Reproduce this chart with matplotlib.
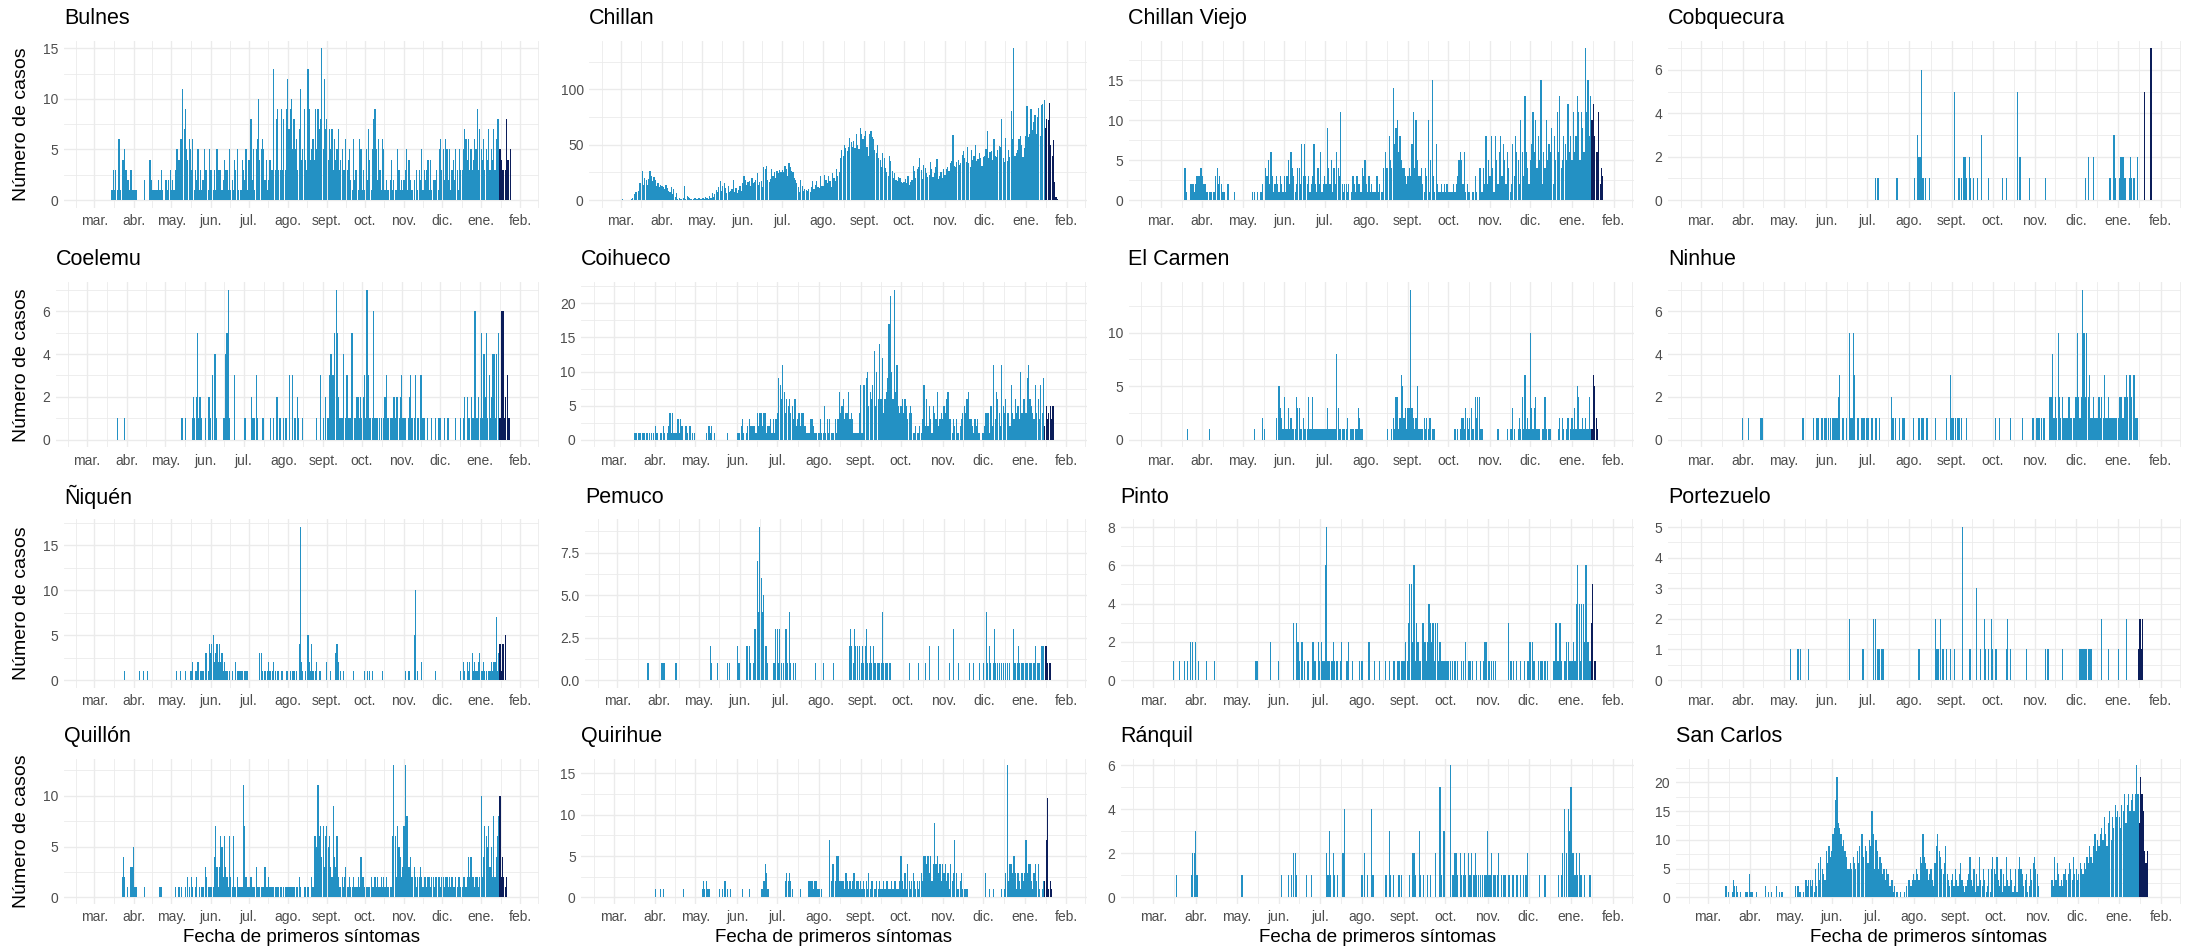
import numpy as np
import pandas as pd
import matplotlib
matplotlib.use("Agg")
import matplotlib.pyplot as plt

plt.rcParams['font.family'] = ['Liberation Sans', 'DejaVu Sans']

# casos diarios por fecha de inicio de sintomas, un texto por mes (mar 2020 ... ene 2021)
# "v*n" = n dias seguidos con valor v
bulnes = [
    "0*14 1 3 1 3 1 6 6 1 4 4 5 3 2 2 1 3 1",
    "1 1 1 0 0 0 0 0 0 2 0 0 0 4 2 1 1 1 1 1 2 1 3 1 0 2 2 1 2 3",
    "1 2 1 3 5 5 4 6 6 11 7 9 5 4 6 5 3 6 1 3 2 5 1 3 1 2 5 3 3 1 5",
    "3 3 1 3 1 5 3 3 3 1 2 4 3 3 1 5 1 2 1 4 3 5 1 0 1 4 3 2 5 1",
    "4 4 8 2 5 1 5 6 10 4 5 6 5 2 4 1 2 4 3 3 13 3 8 9 3 3 9 3 8 3 9",
    "12 7 9 10 5 8 5 6 3 7 11 4 5 9 4 3 13 9 4 5 6 4 9 5 9 7 8 15 5 12 7",
    "8 4 7 5 7 3 6 4 5 7 3 4 5 3 3 6 3 4 5 2 1 6 2 3 0 1 6 5 1 3",
    "1 5 2 7 4 1 5 8 9 5 2 6 3 1 6 5 1 2 1 1 2 4 1 2 1 1 5 3 1 2 1",
    "2 3 5 1 4 2 1 1 2 0 3 1 3 2 5 1 3 2 3 4 1 4 1 2 2 2 3 1 5 6",
    "3 5 2 6 5 2 5 1 3 4 2 5 3 1 5 3 3 5 7 6 4 6 3 5 3 4 6 5 9 3 7",
    "5 4 6 3 5 4 7 3 5 4 7 3 6 8 8 5 4 3 3 3 8 4 4 5 0 0",
]
chillan = [
    "0 1 0 0 0 0 0 0 1 2 5 7 7 8 15 15 26 14 20 18 14 19 26 22 17 21 18 13 15 12 14",
    "13 12 10 14 11 8 7 12 5 10 3 6 1 2 1 1 2 13 1 4 3 2 1 0 1 2 1 1 2 1",
    "1 2 1 3 2 1 4 2 6 3 5 9 7 12 17 8 13 15 11 6 13 7 8 10 18 7 11 6 9 13 8",
    "15 22 18 14 16 17 13 20 15 16 18 24 14 16 17 12 30 28 31 18 16 19 28 22 25 20 26 24 27 25",
    "27 25 31 28 22 33 30 26 25 20 18 15 12 7 18 13 8 10 9 8 10 7 12 17 10 14 17 12 11 22 13",
    "13 23 18 15 22 17 12 24 20 17 28 22 25 38 45 40 50 47 44 48 56 52 48 53 47 60 50 46 65 60 55",
    "58 62 48 40 60 62 57 55 45 42 50 38 36 30 42 38 29 25 22 40 35 26 20 24 18 17 21 20 16 15",
    "16 19 15 22 14 16 18 31 26 20 28 30 38 27 19 32 29 24 21 23 34 28 21 24 30 37 19 22 25 20 28",
    "23 28 30 26 33 35 59 31 30 34 36 32 33 41 44 38 34 48 33 30 45 36 40 50 35 37 42 38 31 39",
    "40 46 62 38 43 44 36 55 40 39 45 49 48 73 38 34 56 35 45 39 80 55 137 40 42 45 55 58 50 39 47",
    "58 85 57 60 82 63 70 77 60 75 83 58 86 87 90 65 73 72 88 50 40 54 16 3 1 0",
]
chillan_viejo = [
    "0*18 4 1 0 0 2 2 2 1 2 3 3 3 4",
    "3 2 2 1 1 1 1 1 1 1 3 4 2 3 2 1 1 0 0 2 0 0 0 0 1 0 0 0 0 0",
    "0 0 0 0 0 0 0 1 0 1 0 1 0 1 1 2 0 4 3 5 2 6 3 1 2 3 2 1 3 2 1",
    "3 1 3 5 2 6 4 3 1 2 4 4 2 7 3 7 3 2 3 1 2 3 7 2 1 4 2 6 1 2",
    "3 2 9 4 2 5 1 4 2 6 4 3 11 2 1 2 2 1 2 0 1 3 2 1 3 2 2 1 4 3 5",
    "2 1 3 1 2 1 1 1 3 1 2 1 1 4 6 4 4 8 5 4 14 7 9 10 6 8 5 4 4 3 2",
    "3 4 3 7 11 4 10 5 3 3 4 2 1 4 3 10 1 5 15 3 1 7 2 1 1 2 1 2 1 2",
    "1 1 1 1 2 1 2 3 5 6 5 2 6 1 2 1 1 0 1 1 3 1 0 4 4 1 4 2 8 2 5",
    "3 8 4 1 8 5 2 6 8 3 7 5 2 6 4 1 2 7 3 8 6 5 2 10 6 3 13 6 4 2",
    "5 7 11 6 10 4 8 5 15 2 6 4 10 5 7 6 9 2 8 5 11 6 13 4 5 8 7 5 12 6 8",
    "5 11 6 8 13 11 5 11 9 6 19 11 15 8 13 10 12 8 6 6 11 2 4 3 0 0",
]
cobquecura = [
    "", "", "", "",
    "0*6 1 0 1 0*13 1 0*8",
    "0*4 1 0 3 2 2 6 1 0 1 0 0 1 0*15",
    "0 0 5 0 0 1 1 1 0 2 2 1 0 2 1 0 1 0 0 1 0 0 3 0 0 0 0 1 0 0",
    "0*7 1 0 0 1 0*7 5 0 2 0*6 1 0*3",
    "0*8 1 0*21",
    "0*7 1 0 2 0*3 2 0*11 1 0 0 3 1 0",
    "0 1 2 2 2 1 0 0 1 2 1 1 1 0 2 0 0 0 0 5 0 0 0 0 7 0",
]
coelemu = [
    "0*24 1 0 0 0 0 1 0",
    "",
    "0*13 1 0 0 1 0*4 1 2 1 2 5 1 2 1 0 0",
    "1 0 0 2 1 0 3 4 4 1 0 0 0 0 1 1 4 5 7 1 0 0 0 3 0 0 0 0 0 0",
    "0 1 0 0 0 0 2 1 1 0 3 1 0 0 0 1 0 0 0 0 0 1 0 1 0 0 2 0 1 1 0",
    "1 0 1 0 0 3 0 3 0 1 0 2 1 0 0 1 0 0 0 0 0 0 0 0 0 0 1 0 0 3 0",
    "1 0 2 1 1 3 4 3 3 5 7 5 2 1 1 1 4 1 3 3 1 1 5 5 1 1 2 2 1 2",
    "1 2 3 1 7 3 1 1 1 6 1 1 1 0 1 1 0 1 2 3 1 1 1 1 1 2 1 2 2 1 2",
    "3 1 1 1 0 1 2 3 1 0 1 3 1 1 0 3 1 1 1 0 1 0 0 1 0 0 1 0 0 1",
    "1 0 0 1 0 0 1 0 0 0 0 0 1 0 0 0 1 0 1 2 0 2 1 1 2 1 1 6 1 1 2",
    "1 5 1 4 2 5 1 3 1 2 4 4 1 4 5 1 1 6 6 1 2 3 1 1 0 0",
]
coihueco = [
    "0*16 1 1 0 1 1 0 1 1 0 1 0 1 1 0 1",
    "2 1 1 0 1 1 2 1 0 1 2 4 1 4 1 1 1 3 1 3 2 0 0 2 1 0 2 0 1 1",
    "0 0 0 0 0 0 0 0 1 0 2 1 2 0 1 0 0 0 0 0 0 0 0 0 1 0 0 0 0 0 0",
    "1 1 1 2 3 1 0 1 2 3 2 2 2 2 1 4 2 4 4 2 4 4 1 2 2 3 1 3 1 3",
    "4 9 8 6 11 7 4 6 5 6 4 5 3 6 2 3 4 2 4 4 2 2 1 1 1 3 3 2 1 1 0",
    "1 3 1 1 5 1 3 1 3 1 1 1 3 1 3 7 4 5 6 3 4 4 7 3 4 3 1 1 1 1 4",
    "8 1 8 8 9 10 5 7 6 8 13 5 10 6 14 6 12 4 6 7 9 17 21 10 6 22 7 11 5 4",
    "5 6 4 6 5 3 4 5 4 1 1 2 1 1 2 1 3 8 2 6 2 5 3 1 5 4 3 7 2 3 4",
    "3 5 4 6 7 3 3 1 3 2 3 1 1 2 3 4 5 4 6 7 3 3 2 1 3 2 3 1 0 0",
    "1 2 4 4 4 1 5 2 11 3 7 6 4 2 11 5 4 6 4 4 2 8 4 3 6 4 5 3 10 4 6",
    "6 4 9 11 6 5 4 3 8 4 6 3 8 4 9 2 5 3 4 5 3 5 0 0 0 0",
]
el_carmen = [
    "0*20 1 0*10",
    "0*5 1 0*24",
    "0*9 1 0*5 2 1 0*8 2 0 5 3 2 1",
    "4 1 1 3 1 2 1 1 1 4 3 3 1 1 2 1 1 1 4 1 1 4 1 1 1 1 1 1 1 1",
    "1 1 3 1 1 1 1 1 1 8 3 1 1 1 1 1 1 2 0 1 1 1 0 1 1 3 2 1 1 0 0",
    "0*16 1 0 0 1 2 1 4 4 1 2 6 5 2 3 1",
    "3 3 14 3 2 1 2 5 1 1 1 1 2 1 2 1 2 2 1 1 1 0 0 0 0 0 0 0 0 0",
    "0 0 0 0 0 1 0 1 0 1 2 2 1 3 2 1 2 3 1 1 4 2 4 4 1 1 0 0 0 0 0",
    "0 0 0 0 0 0 1 0 0 0 0 0 0 1 0 1 1 3 1 0 0 1 2 1 4 1 6 1 2 1",
    "10 3 1 3 4 1 1 1 0 1 1 4 1 0 1 1 0 0 0 0 0 1 2 0 2 1 0 1 2 0 1",
    "2 1 3 1 5 4 1 1 2 1 2 1 1 4 1 1 6 5 2 1 0 0 0 0 0 0",
]
ninhue = [
    "",
    "1 0 0 0 1 0 0 0 0 0 0 0 0 1 1 0*15",
    "0*14 1 0*7 1 0 1 1 0 0 1 0 1",
    "1 0 1 1 0 1 1 1 1 2 3 0 1 1 0 1 0 5 1 1 5 3 0 1 1 0 1 1 1 0",
    "1 1 0 1 1 0 1 1 0 1 0 0 0 0 0 0 0 0 2 1 0 1 0 0 1 0 1 1 0 0 0",
    "0 0 0 1 0 0 0 1 0 1 1 0 0 1 0 0 0 0 0 1 0 0 0 0 0 0 0 1 0 0 3",
    "1 1 0 1 1 1 1 1 0 0 0 1 0 0 0 0 0 0 0 0 0 0 0 0 0 0 0 0 0 0",
    "0 0 1 0 0 1 0 0 0 0 0 0 0 1 0 0 0 0 0 0 0 0 1 0 0 0 0 0 0 1 1",
    "0 1 1 1 0 1 1 1 0 0 0 2 2 4 1 2 1 5 2 1 2 1 1 1 1 2 1 1 1 1",
    "2 5 2 1 2 7 5 2 5 2 3 1 1 2 1 1 1 2 1 2 1 3 1 1 2 1 1 1 1 1 1",
    "1 2 2 1 1 2 3 2 3 3 2 3 3 1 1 0 0 0 0 0 0 0 0 0 0 0",
]
niquen = [
    "0*24 1 0*6",
    "0*5 1 0 0 1 0 0 1 0*18",
    "0*4 1 0 0 1 0 0 0 1 0 0 0 1 1 2 0 1 1 2 0 1 1 1 0 3 3 1 4",
    "3 4 5 2 3 4 2 4 2 3 1 2 1 1 0 1 0 1 0 0 2 1 1 1 1 1 0 1 1 1",
    "0 0 0 0 0 0 0 0 0 3 3 1 0 1 0 1 2 1 0 1 2 1 0 1 1 0 1 1 0 0 1",
    "1 0 1 0 1 1 0 1 0 4 17 2 1 0 1 0 5 2 1 4 1 0 1 2 0 1 1 0 0 0 0",
    "2 0 0 1 0 0 0 3 4 2 0 1 0 1 0 0 0 0 0 0 0 1 0 0 0 0 0 0 0 0",
    "1 0 1 0 1 0 1 0 0 0 0 0 0 0 1 0*16",
    "0 1 0 0 1 0 0 0 5 10 0 1 0 0 2 0*10 1 0*4",
    "0*15 1 0 2 1 0 2 1 2 0 3 1 2 1 1 2 3",
    "1 1 2 1 1 0 1 1 2 1 2 2 7 1 3 4 1 4 4 5 0 0 0 0 0 0",
]
pemuco = [
    "0*23 1 0*7",
    "0 0 1 1 1 0 0 0 0 0 0 0 0 1 0*16",
    "0*9 2 1 0 0 0 1 0*7 1 1 0 0 0 0 0 2 1",
    "1 0 0 0 0 2 2 2 1 0 1 3 3 7 4 9 6 4 5 2 2 1 0 0 0 1 1 3 3 1",
    "3 1 0 1 3 3 1 4 1 0 1 0 1 0 0 0 0 0 0 0 0 0 0 0 0 0 0 1 0 0 0",
    "0 0 1 0 0 0 0 0 0 1 0 0 0 0 0 0 0 0 0 0 0 2 3 2 1 3 2 2 0 2 1",
    "2 1 2 3 1 1 2 1 2 1 1 1 1 1 1 4 1 1 1 1 1 1 0 0 0 0 0 0 0 0",
    "0 0 0 0 0 1 0 0 0 0 0 0 1 0 0 0 0 1 0 0 2 0 0 0 0 0 0 2 0 0 0",
    "0 0 0 0 1 0 0 3 0 0 0 1 0 0 0 0 0 0 0 1 0 0 1 0 0 0 0 1 0 0",
    "1 0 4 1 2 1 0 1 3 1 1 0 1 1 0 1 1 0 1 1 0 0 3 1 1 1 2 1 1 1 1",
    "1 1 1 1 1 1 1 1 2 1 1 1 2 2 2 2 2 1 1 1 0 0 0 0 0 0",
]
pinto = [
    "0*15 1 0 0 0 1 0 0 0 1 0 1 0 2 0 2 0",
    "2 0 1 0 0 0 0 0 1 0 0 0 0 0 1 0*15",
    "0*14 1 1 0*9 2 0*5",
    "1 0 0 0 0 0 0 0 0 0 0 3 0 3 2 1 0 2 0 1 0 1 1 0 0 2 1 1 0 2",
    "1 2 1 1 6 8 1 1 0 1 2 1 1 1 0 1 2 0 0 0 1 2 0 0 1 0 0 0 0 1 0",
    "1 0 0 0 0 2 0 0 0 1 0 0 0 1 0 0 0 1 0 0 1 0 0 1 1 0 1 1 0 1 1",
    "1 2 1 3 5 5 2 6 1 3 2 1 1 3 3 2 1 2 4 3 2 3 1 3 3 1 2 1 1 1",
    "1 1 1 0 1 1 0 1 0 1 0 0 1 1 0 2 0 1 1 0 1 0 0 1 0 0 1 0 1 2 2",
    "0 1 0 1 1 0 1 0 0 0 0 0 0 0 0 3 0 1 0 1 0 1 0 0 1 0 0 1 0 1",
    "1 2 0 2 1 0 0 1 0 1 1 0 1 0 1 0 0 0 1 1 3 1 1 3 1 0 1 1 2 2 1",
    "1 1 2 1 4 6 4 1 4 4 2 6 2 2 1 3 5 1 1 0 0 0 0 0 0 0",
]
portezuelo = [
    "", "",
    "0*5 1 0*4 1 1 1 0*5 1 0*12",
    "0*17 2 0*9 1 0 0",
    "0 0 0 0 0 2 2 0 1 1 0 1 1 0*18",
    "0*7 1 0*11 2 1 1 0 2 1 1 0 1 0 0 1",
    "0 0 1 0 0 0 0 0 5 0 0 0 0 1 1 0 0 0 3 0 0 1 0 0 2 1 0 1 0 2",
    "1 0 1 1 0 0 0 0 0 0 1 2 0 1 0 0 0 0 0 0 0 0 0 0 0 1 0 0 0 0 0",
    "0*8 1 1 1 0*9 1 0*9",
    "0 0 0 1 1 1 1 1 1 1 1 1 0 0 0 0 0 0 0 2 0 0 0 0 1 0 0 0 0 0 0",
    "1 0 0 0 0 0 2 0 0 0 0 0 0 0 0 1 2 1 2 0 0 0 0 0 0 0",
]
quillon = [
    "0*22 2 4 2 0 1 0 0 3 3",
    "5 1 1 0 0 0 0 0 0 1 0*11 1 1 0*7",
    "0 0 0 1 0 0 1 0 1 0 0 1 0 2 1 0 2 1 0 1 2 0 1 0 1 1 0 3 2 1 1",
    "1 1 1 4 7 3 1 3 6 5 2 6 3 2 1 6 2 1 6 1 1 2 1 1 1 1 11 7 2 1",
    "1 1 2 1 1 1 3 1 1 1 1 1 1 3 1 1 2 1 1 1 1 1 1 1 1 1 1 0 1 1 1",
    "1 1 1 1 1 1 0 1 1 2 1 0 0 1 1 0 1 0 0 2 1 6 6 5 11 6 7 4 7 3 6",
    "7 5 6 3 2 9 4 3 6 2 1 1 2 1 2 3 1 1 2 1 1 2 1 1 1 2 1 4 2 2",
    "1 1 1 1 1 2 1 1 2 1 2 1 1 2 1 2 1 2 1 1 1 1 6 13 6 2 7 5 4 2 3",
    "7 13 8 8 3 4 2 2 3 2 1 2 2 3 2 1 2 2 1 2 2 1 2 2 1 2 2 2 2 1",
    "2 2 1 2 2 1 2 1 2 1 1 2 1 2 2 1 1 2 2 1 2 4 2 4 2 2 1 2 2 1 2",
    "10 2 4 7 6 5 7 3 5 2 8 2 4 6 8 10 2 4 2 1 2 0 0 0 0 0",
]
quirihue = [
    "",
    "1 0 0 0 1 0 1 0*14 1 0*8",
    "0*5 1 2 1 2 1 1 0*7 1 0 1 0 2 0 1 0 1 0 0 0 0",
    "0 0 0 0 1 0 0 0 0 1 0 0 0 0 0 0 0 0 1 1 2 4 3 1 0 0 0 0 0 0",
    "0 0 0 0 0 0 2 3 2 3 2 1 0 0 0 0 0 1 0 0 0 0 0 2 2 2 2 1 2 2 1",
    "1 0 1 0 0 0 0 0 7 2 4 4 2 5 5 2 2 2 2 1 3 2 1 2 1 2 3 1 2 2 1",
    "2 1 2 1 2 1 3 1 2 2 1 1 2 1 2 1 1 2 1 2 2 1 1 2 1 2 2 1 1 2",
    "5 2 1 3 1 4 2 1 2 3 2 1 2 1 2 3 2 5 5 4 5 3 5 2 4 9 4 5 3 4 2",
    "4 3 4 2 3 1 4 2 3 7 3 1 1 2 3 1 1 1 1 0 0 0 0 0 0 0 0 0 0 0",
    "0 0 3 0 0 1 0 0 1 0 0 0 0 0 1 0 1 3 16 2 4 4 3 5 3 1 3 2 1 3 2",
    "3 7 3 4 4 2 1 3 4 2 4 1 0 1 2 2 7 12 1 2 1 0 0 0 0 0",
]
ranquil = [
    "0*17 1 0*10 1 2 2",
    "3 1 0*28",
    "0*4 1 0*26",
    "0 0 1 0 0 0 0 1 0 1 0 2 2 1 0 0 0 0 0 0 1 0 0 0 1 0 0 0 0 0",
    "0 0 0 0 0 2 1 3 1 0 2 1 0 1 0 0 0 2 4 0 0 0 0 0 0 0 0 0 0 0 0",
    "1 0 2 0 1 0 0 4 1 0 0 0 0 0 0 0 0 1 1 0 3 1 0 1 0 0 0 1 0 1 0",
    "0 0 0 0 1 0 2 2 1 0 0 3 1 0 1 0 0 1 0 1 0 0 0 2 0 0 5 1 0 3",
    "0 0 0 0 6 1 1 2 2 1 0 2 1 1 2 1 0 2 1 2 0 1 2 1 1 0 1 1 0 1 1",
    "3 1 1 2 1 1 1 1 2 0 1 0 1 1 0 1 1 0 1 1 0 1 1 0 1 0 1 0 1 2",
    "0 0 0 0 0 0 0 0 1 0 0 0 1 0 0 0 0 0 0 0 0 0 1 0 1 2 4 0 2 4 3",
    "5 2 2 1 2 1 2 1 1 0 1 0 0 0 1 0 0 0 0 0 0 0 0 0 0 0",
]
san_carlos = [
    "0*13 2 2 1 0 0 1 3 2 2 1 0 1 0 0 0 1 1 0",
    "4 1 1 0 0 1 0 0 0 0 0 0 2 0 1 0 1 0 0 0 2 0 1 0 1 0 0 0 0 0",
    "0 0 0 0 2 0 2 1 1 0 1 0 3 2 3 3 2 3 1 5 2 6 3 7 5 4 3 8 6 9 7",
    "8 11 12 17 21 13 12 11 9 10 8 7 5 5 6 5 7 6 5 8 6 9 11 11 7 9 8 6 10 9",
    "15 11 5 10 8 5 7 6 4 5 3 5 4 2 2 3 1 2 1 1 0 1 0 0 1 0 2 3 3 2 3",
    "4 3 5 4 3 7 6 11 7 6 5 3 4 5 3 2 6 9 11 8 7 5 4 6 9 4 3 2 3 4 2",
    "5 3 2 4 6 3 2 1 2 3 4 7 3 2 5 1 4 2 7 3 2 5 3 1 2 5 1 5 7 5",
    "4 7 3 2 5 1 4 2 7 3 2 5 3 1 2 5 1 5 7 5 4 2 3 4 1 2 5 3 6 7 5",
    "4 2 0 0 0 0 0 0 0 0 0 3 2 7 3 6 4 2 3 2 4 5 3 4 6 5 3 7 4 5",
    "3 4 6 5 4 6 5 7 6 9 7 6 9 11 8 10 9 11 12 10 14 11 9 13 15 10 14 12 16 14 15",
    "14 12 16 15 18 13 16 18 15 17 18 15 18 23 18 13 21 18 15 8 6 8 0 0 0 0",
]

comunas = ["Bulnes", "Chillan", "Chillan Viejo", "Cobquecura",
           "Coelemu", "Coihueco", "El Carmen", "Ninhue",
           "Ñiquén", "Pemuco", "Pinto", "Portezuelo",
           "Quillón", "Quirihue", "Ránquil", "San Carlos"]
datos = [bulnes, chillan, chillan_viejo, cobquecura,
         coelemu, coihueco, el_carmen, ninhue,
         niquen, pemuco, pinto, portezuelo,
         quillon, quirihue, ranquil, san_carlos]
ticks_y = [[0, 5, 10, 15], [0, 50, 100], [0, 5, 10, 15], [0, 2, 4, 6],
           [0, 2, 4, 6], [0, 5, 10, 15, 20], [0, 5, 10], [0, 2, 4, 6],
           [0, 5, 10, 15], [0, 2.5, 5, 7.5], [0, 2, 4, 6, 8], [0, 1, 2, 3, 4, 5],
           [0, 5, 10], [0, 5, 10, 15], [0, 2, 4, 6], [0, 5, 10, 15, 20]]
meses = ["mar.", "abr.", "may.", "jun.", "jul.", "ago.", "sept.",
         "oct.", "nov.", "dic.", "ene.", "feb."]

fechas = pd.date_range("2020-03-01", "2021-01-26", freq="D")
corte = pd.Timestamp("2021-01-16")   # ultimos dias (casos aun incompletos)
xmin, xmax = pd.Timestamp("2020-02-06"), pd.Timestamp("2021-02-16")

AZUL = "#2391C4"
OSCURO = "#0B1D5A"
GRILLA = "#EBEBEB"


def expandir(txt, n):
    vals = []
    for tok in txt.split():
        if "*" in tok:
            v, k = tok.split("*")
            vals += [int(v)] * int(k)
        else:
            vals.append(int(tok))
    return (vals + [0] * n)[:n]


def serie_diaria(meses_txt):
    per = fechas.to_period("M")
    out = []
    for txt, p in zip(meses_txt, per.unique()):
        out += expandir(txt, int((per == p).sum()))
    return np.array(out)


def etiquetas(ticks):
    if all(float(t).is_integer() for t in ticks):
        return [str(int(t)) for t in ticks]
    return [f"{t:.1f}" for t in ticks]


def minores(ticks, lo, hi):
    paso = ticks[1] - ticks[0]
    ext = [ticks[0] - paso] + list(ticks) + [ticks[-1] + paso]
    m = [(a + b) / 2 for a, b in zip(ext[:-1], ext[1:])]
    return [v for v in m if lo < v < hi]


W, H = 2189, 951
fig = plt.figure(figsize=(W / 100, H / 100), dpi=100)
cel = W / 4
tops = [40.7, 282, 519.4, 758.5]
bots = [207.6, 447.5, 687.7, 904]

mayores_x = pd.date_range("2020-03-01", "2021-02-01", freq="MS")
bordes = pd.date_range("2020-02-01", "2021-03-01", freq="MS")
minores_x = [a + (b - a) / 2 for a, b in zip(bordes[:-1], bordes[1:])]
minores_x = [d for d in minores_x if xmin < d < xmax and d not in mayores_x]

for i, (nombre, txt, yt) in enumerate(zip(comunas, datos, ticks_y)):
    r, c = divmod(i, 4)
    labs = etiquetas(yt)
    ancho = max(sum(4 if ch == "." else 8 for ch in l) for l in labs)
    left = c * cel + 18 + ancho + (30 if c == 0 else 0)
    right = (c + 1) * cel - 8
    alto = bots[r] - tops[r]
    ax = fig.add_axes([left / W, 1 - bots[r] / H, (right - left) / W, alto / H])

    vals = serie_diaria(txt)
    colores = [OSCURO if f >= corte else AZUL for f in fechas]
    ax.bar(fechas, vals, width=0.9, color=colores, linewidth=0, zorder=2)

    vmax = vals.max()
    ylo, yhi = -0.05 * vmax, 1.05 * vmax
    ax.set_ylim(ylo, yhi)
    ax.set_xlim(xmin, xmax)

    ax.set_yticks(yt)
    ax.set_yticklabels(labs)
    ax.set_yticks(minores(yt, ylo, yhi), minor=True)
    ax.set_xticks(mayores_x)
    ax.set_xticklabels(meses)
    ax.set_xticks(minores_x, minor=True)

    ax.grid(which="major", color=GRILLA, linewidth=1.0, zorder=0)
    ax.grid(which="minor", color=GRILLA, linewidth=0.6, zorder=0)
    ax.set_axisbelow(True)
    for s in ax.spines.values():
        s.set_visible(False)
    ax.tick_params(which="both", length=0)
    ax.tick_params(axis="both", labelsize=10, labelcolor="#4D4D4D")
    ax.tick_params(axis="x", pad=4.5)
    ax.tick_params(axis="y", pad=4)

    ax.text(0, 1 + 22 / alto, nombre, transform=ax.transAxes,
            ha="left", va="center", fontsize=15.5, color="black")

    if c == 0:
        fig.text(22 / W, 1 - (tops[r] + bots[r]) / 2 / H, "Número de casos",
                 rotation=90, ha="center", va="center", fontsize=14)
    if r == 3:
        fig.text((left + right) / 2 / W, 1 - 937 / H, "Fecha de primeros síntomas",
                 ha="center", va="center", fontsize=13.5)

fig.savefig("out.png", dpi=100)
